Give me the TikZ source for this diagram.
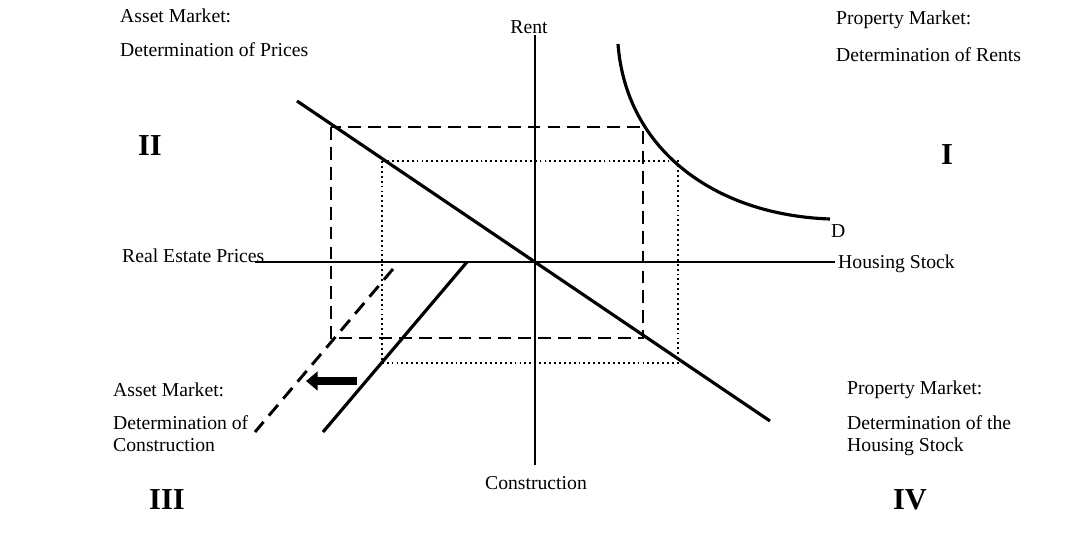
\documentclass[tikz,border=0pt]{standalone}
\usepackage{fontspec}
\setmainfont{Liberation Serif}
\usetikzlibrary{arrows.meta, positioning}

\begin{document}
\begin{tikzpicture}[
    x=0.03cm, y=-0.03cm,
    every node/.style={font=\fontsize{16.8}{19}\selectfont, inner sep=0pt},
    lbl/.style={anchor=west},
    quad/.style={font=\fontsize{26}{30}\selectfont\bfseries},
    axis/.style={line width=1.9pt},
    bold/.style={line width=2.7pt},
    guide/.style={line width=1.1pt, dash pattern=on 11pt off 6pt},
    dotguide/.style={line width=1.6pt, dash pattern=on 1.6pt off 2.6pt},
    shiftline/.style={line width=2.5pt, dash pattern=on 12pt off 7pt},
]
\useasboundingbox (0,0) rectangle (1080,533);

% axes
\coordinate (O) at (535,262);
\coordinate (top) at (535,35);
\coordinate (bot) at (535,465);
\coordinate (left) at (255,262);
\coordinate (right) at (835,262);
\draw[axis] (top) -- (bot);
\draw[axis] (left) -- (right);

% quadrant II price line
\coordinate (p1) at (297,101);
\coordinate (p2) at (770,421);
\draw[bold] (p1) -- (p2);

% construction lines
\coordinate (c1) at (467,262);
\coordinate (c2) at (323,432);
\coordinate (d1) at (393,269);
\coordinate (d2) at (255,432);
\draw[bold] (c1) -- (c2);
\draw[shiftline] (d1) -- (d2);

% shift arrow
\coordinate (sa) at (357,381);
\coordinate (sb) at (306,381);
\draw[line width=7.6pt, -{Triangle[length=10pt, width=16pt]}] (sa) -- (sb);

% demand curve
\coordinate (D0) at (618,44);
\coordinate (D1) at (830,219);
\draw[bold] (D0) .. controls (626,150) and (715,215) .. (D1);

% equilibrium rectangles
\coordinate (g1) at (331,127);
\coordinate (g2) at (643,338);
\coordinate (h1) at (382,161);
\coordinate (h2) at (678,363);
\draw[guide] (g1) rectangle (g2);
\draw[dotguide] (h1) rectangle (h2);

% labels
\node[lbl] (am1) at (120,16) {Asset Market:};
\node[lbl] (am2) at (120,50) {Determination of Prices};
\node (rent) at (529,27) {Rent};
\node[lbl] (pm1) at (836,20) {Property Market:};
\node[lbl] (pm2) at (836,55) {Determination of Rents};
\node[quad] (q2) at (150,146) {II};
\node[quad] (q1) at (947,155) {I};
\node[lbl] (dlab) at (831,231) {D};
\node[lbl] (rep) at (122,256) {Real Estate Prices};
\node[lbl] (hs) at (838,264) {Housing Stock};
\node[lbl] (am3) at (113,390) {Asset Market:};
\node[lbl, align=left, anchor=north west] (am4) at (113,415) {Determination of\\Construction};
\node[lbl] (pm3) at (847,390) {Property Market:};
\node[lbl, align=left, anchor=north west] (pm4) at (847,415) {Determination of the\\Housing Stock};
\node (con) at (536,483) {Construction};
\node[quad] (q3) at (167,500) {III};
\node[quad] (q4) at (910,500) {IV};

\end{tikzpicture}
\end{document}
